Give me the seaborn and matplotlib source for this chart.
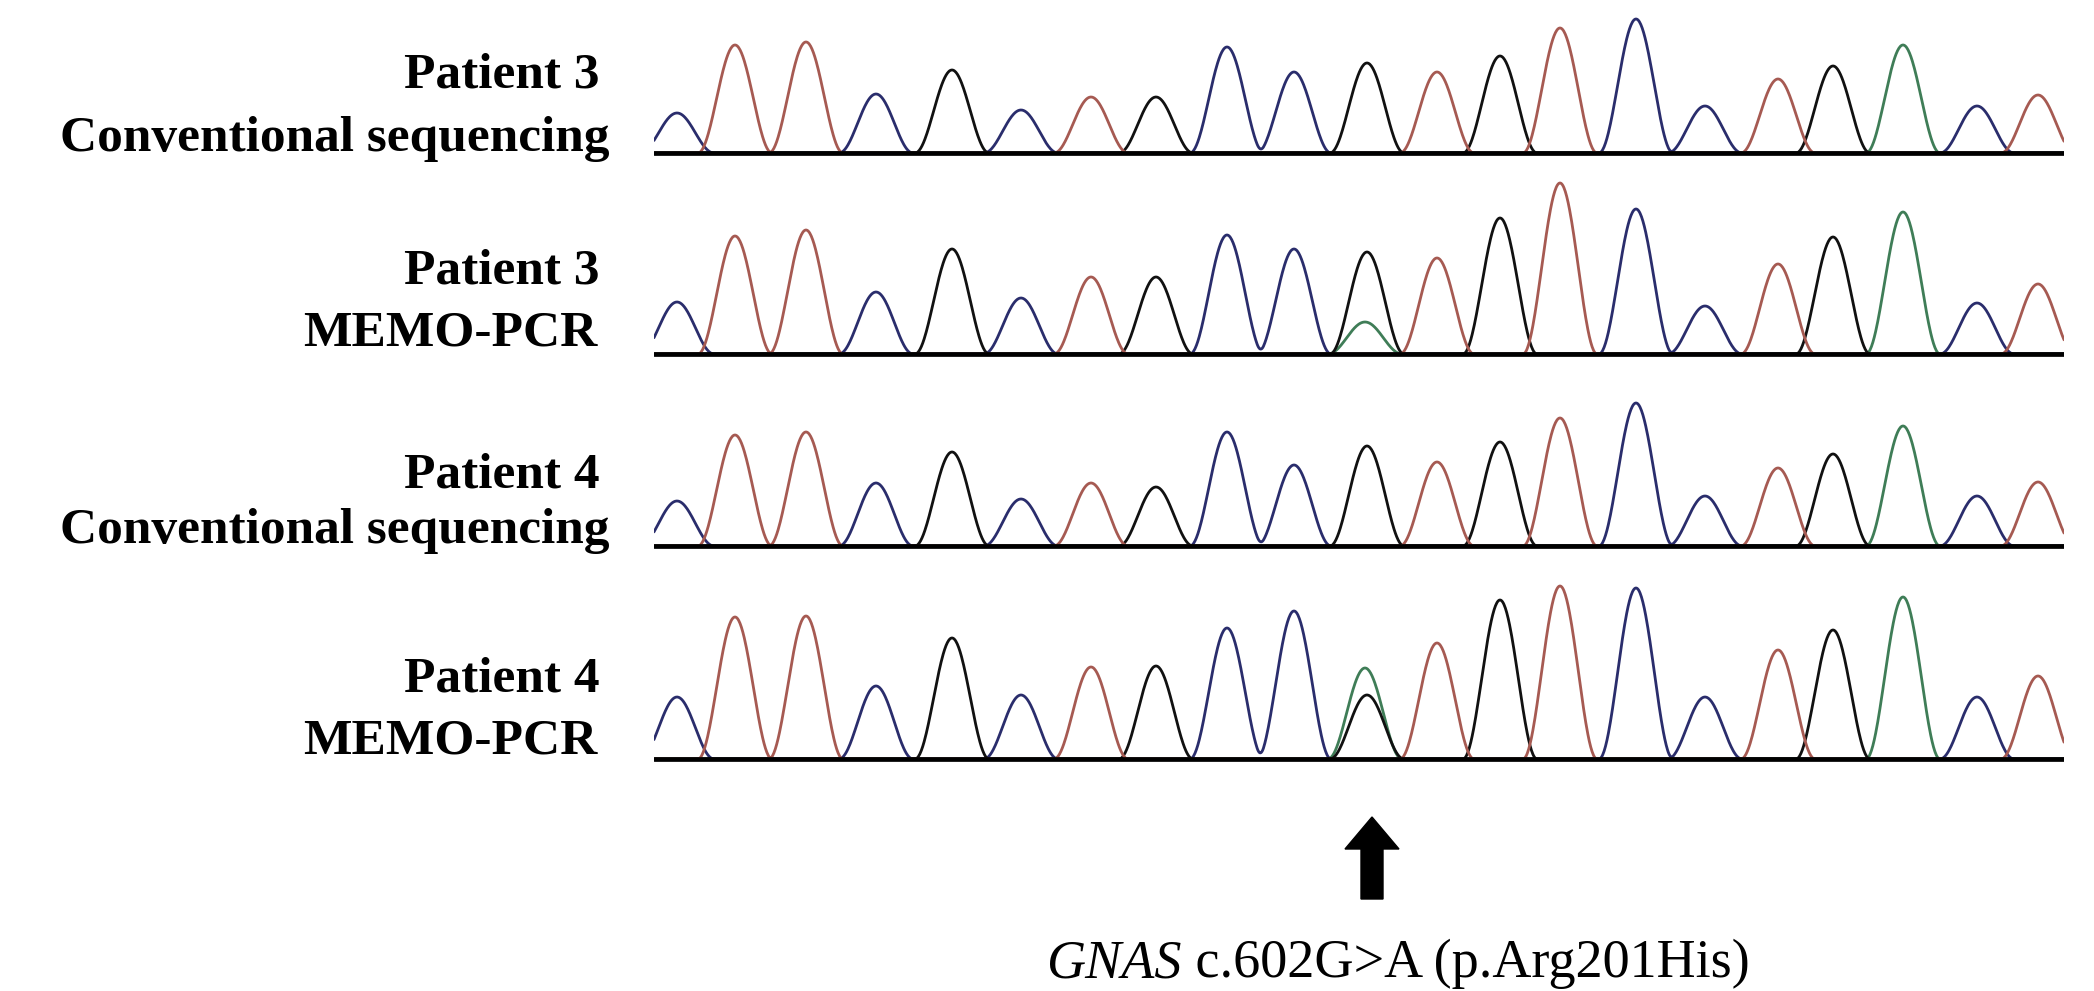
import matplotlib.pyplot as plt
import numpy as np
import pandas as pd
import seaborn as sns
from matplotlib.patches import FancyArrow

# peak centres (trace scan position, px) and base calls shared by all four traces
peak_pos = [677, 735, 806, 876, 952, 1021, 1091, 1156, 1227, 1294, 1367,
            1437, 1500, 1560, 1636, 1705, 1778, 1833, 1903, 1977, 2038]
bases = list("CTTCGCTGCCGTGTCCTGACT")
mutation_idx = 10  # c.602G>A

# primary peak heights per trace
h_p3_conv = [40, 108, 111, 59, 83, 43, 56, 56, 106, 81, 90,
             81, 97, 125, 134, 47, 74, 87, 108, 47, 58]
h_p3_memo = [52, 118, 124, 62, 105, 56, 77, 77, 119, 105, 102,
             96, 136, 171, 145, 48, 90, 117, 142, 51, 70]
h_p4_conv = [45, 111, 114, 63, 94, 47, 63, 59, 114, 81, 100,
             84, 104, 128, 143, 50, 78, 92, 120, 50, 64]
h_p4_memo = [62, 142, 143, 73, 121, 64, 92, 93, 131, 148, 64,
             116, 159, 173, 171, 62, 109, 129, 162, 62, 83]
# secondary "A" signal at the mutated position
alt_a = [0, 32, 0, 91]

row_labels = [
    ("Patient 3", "Conventional sequencing"),
    ("Patient 3", "MEMO-PCR"),
    ("Patient 4", "Conventional sequencing"),
    ("Patient 4", "MEMO-PCR"),
]
mutation_label = " c.602G>A (p.Arg201His)"
gene = "GNAS"

base_colors = {"A": "#3f7d57", "C": "#2a2d6c", "G": "#111111", "T": "#a65a52"}

W, H = 2094, 991
baselines = [153, 354, 546, 759]
label_y_upper = [76, 272, 475, 679]
label_y_lower = [139, 334, 531, 742]
x0, x1 = 654, 2064
half_w = 37.0


def peak_shape(x, p, h):
    d = np.clip(np.abs(x - p) / half_w, 0, 1)
    return h * np.cos(np.pi * d / 2) ** 2


def trace_frame(heights, alt):
    x = np.linspace(x0, x1, 2000)
    rows = []
    for base in "ACGT":
        sig = np.zeros_like(x)
        for p, b, h in zip(peak_pos, bases, heights):
            if b == base:
                sig += peak_shape(x, p, h)
        if base == "A" and alt:
            sig += peak_shape(x, peak_pos[mutation_idx] - 2, alt)
        rows.append(pd.DataFrame({"x": x, "signal": sig, "base": base}))
    return pd.concat(rows, ignore_index=True)


sns.set_theme(style="white")
plt.rcParams["font.family"] = ["Liberation Serif", "DejaVu Serif"]
plt.rcParams["text.color"] = "black"

fig = plt.figure(figsize=(W / 100, H / 100), dpi=100)
overlay = fig.add_axes([0, 0, 1, 1])
overlay.set_xlim(0, W)
overlay.set_ylim(H, 0)
overlay.axis("off")

traces = [h_p3_conv, h_p3_memo, h_p4_conv, h_p4_memo]
for i, (heights, alt, base_y) in enumerate(zip(traces, alt_a, baselines)):
    top, bottom = 190, 5
    ax = fig.add_axes([x0 / W, (H - base_y - bottom) / H,
                       (x1 - x0) / W, (top + bottom) / H])
    ax.patch.set_alpha(0)
    df = trace_frame(heights, alt)
    sns.lineplot(data=df, x="x", y="signal", hue="base", palette=base_colors,
                 estimator=None, sort=False, legend=False, linewidth=2.0, ax=ax)
    ax.axhline(0, color="black", linewidth=3.4, zorder=5)
    ax.set_xlim(x0, x1)
    ax.set_ylim(-bottom, top)
    ax.axis("off")

    upper, lower = row_labels[i]
    overlay.text(600, label_y_upper[i], upper, ha="right", va="center",
                 fontsize=37, fontweight="bold")
    lx = 609 if lower.startswith("Conv") else 597
    overlay.text(lx, label_y_lower[i], lower, ha="right", va="center",
                 fontsize=37, fontweight="bold")

ax_x = peak_pos[mutation_idx] + 5
overlay.add_patch(FancyArrow(ax_x, 899, 0, -82, width=22, head_width=54,
                             head_length=32, length_includes_head=True,
                             color="black"))
g = overlay.text(1046, 977, gene, ha="left", va="baseline", fontsize=39,
                 fontstyle="italic")
overlay.annotate(mutation_label, xy=(1, 0), xycoords=g, ha="left",
                 va="bottom", fontsize=39)

fig.savefig("out.png", dpi=100, facecolor="white")
